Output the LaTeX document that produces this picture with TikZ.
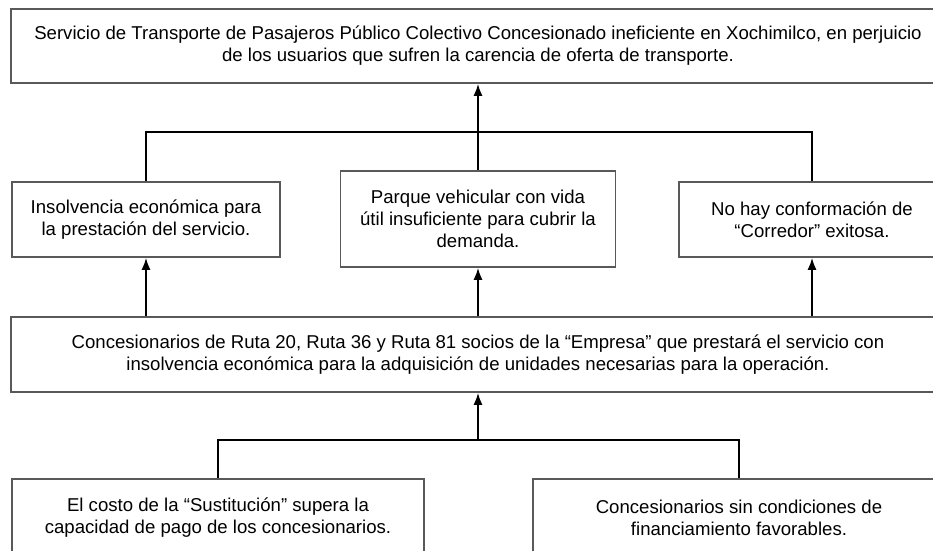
\documentclass[tikz,border=0pt]{standalone}
\usepackage{fontspec}
\setmainfont{Liberation Sans}
\usetikzlibrary{arrows.meta,positioning}

\begin{document}
\begin{tikzpicture}[x=1pt, y=-1pt,
        box/.style={draw=black!65, line width=1.6pt, fill=white, align=center, inner sep=0pt,
            font=\fontsize{18.6}{22}\selectfont},
        line/.style={>={Latex[length=12pt, width=9pt]}, line width=1.8pt}]
        \useasboundingbox (0, 0) rectangle (933, 550);
        \clip (0, 0) rectangle (933, 550);
        \fill[white] (0, 0) rectangle (933, 550);

        \node[box, minimum width=934pt, minimum height=74pt] (P) at (478, 46) {Servicio de Transporte de Pasajeros Público Colectivo Concesionado ineficiente en Xochimilco, en perjuicio\\de los usuarios que sufren la carencia de oferta de transporte.};
        \node[box, minimum width=268pt, minimum height=75pt] (C1) at (146, 219.5) {Insolvencia económica para\\la prestación del servicio.};
        \node[box, minimum width=275pt, minimum height=96pt] (C2) at (478, 219) {Parque vehicular con vida\\útil insuficiente para cubrir la\\demanda.};
        \node[box, minimum width=266pt, minimum height=75pt] (C3) at (812, 219.5) {No hay conformación de\\“Corredor” exitosa.};
        \node[box, minimum width=934pt, minimum height=75pt] (E) at (478, 354.5) {Concesionarios de Ruta 20, Ruta 36 y Ruta 81 socios de la “Empresa” que prestará el servicio con\\insolvencia económica para la adquisición de unidades necesarias para la operación.};
        \node[box, minimum width=412pt, minimum height=77pt] (B1) at (218, 517.5) {El costo de la “Sustitución” supera la\\capacidad de pago de los concesionarios.};
        \node[box, minimum width=412pt, minimum height=77pt] (B2) at (739, 517.5) {Concesionarios sin condiciones de\\financiamiento favorables.};
        \coordinate (J1) at (478, 132);
        \coordinate (J2) at (478, 440);

        \draw[line] (C1.north) |- (J1) -| (C3.north);
        \draw[->, line] (C2.north) -- (P.south);
        \draw[->, line] (E.north -| C1.south) -- (C1.south);
        \draw[->, line] (E.north) -- (C2.south);
        \draw[->, line] (E.north -| C3.south) -- (C3.south);
        \draw[line] (B1.north) |- (J2) -| (B2.north);
        \draw[->, line] (J2) -- (E.south);
    \end{tikzpicture}
\end{document}
